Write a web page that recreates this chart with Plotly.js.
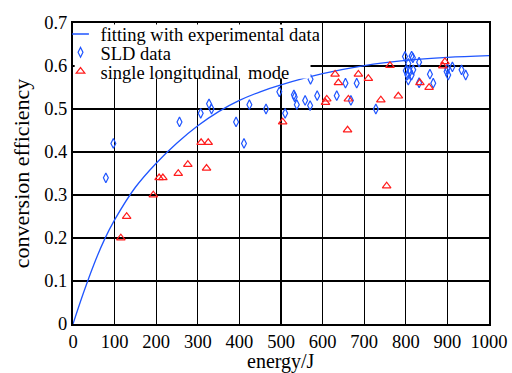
<!DOCTYPE html>
<html>
<head>
<meta charset="utf-8">
<script src="https://cdn.plot.ly/plotly-3.0.1.min.js"></script>
<style>html,body{margin:0;padding:0;background:#fff;}#chart{width:512px;height:373px;}</style>
</head>
<body>
<div id="chart"></div>
<script>
// Fitted curve
var fitEnergy = [0, 25, 50, 75, 100, 150, 200, 250, 300, 350, 400, 450, 500, 600, 700, 800, 900, 1000];
var fitEff    = [0, 0.072, 0.138, 0.195, 0.242, 0.318, 0.374, 0.421, 0.461, 0.494, 0.52, 0.54, 0.556, 0.582, 0.601, 0.613, 0.62, 0.624];

// SLD data (blue diamonds)
var sldEnergy = [79, 97, 256, 307, 327, 333, 392, 411, 424, 464, 496, 510, 531, 533, 538, 558, 570, 571, 587, 634, 655, 668, 682, 728,
                 798, 814, 817, 832, 806, 800, 810, 818, 804, 814, 806, 858, 866, 832, 898, 902, 912, 934, 944, 900];
var sldEff    = [0.34, 0.42, 0.47, 0.49, 0.512, 0.50, 0.47, 0.42, 0.51, 0.50, 0.54, 0.49, 0.533, 0.528, 0.51, 0.52, 0.508, 0.569, 0.531, 0.531, 0.56, 0.52, 0.56, 0.50,
                 0.622, 0.623, 0.619, 0.609, 0.606, 0.589, 0.587, 0.591, 0.579, 0.579, 0.567, 0.581, 0.56, 0.561, 0.587, 0.579, 0.598, 0.591, 0.579, 0.594];

// Single longitudinal mode (red triangles)
var slmEnergy = [115, 129, 193, 207, 216, 253, 276, 308, 325, 321, 504, 607, 610, 630, 638, 660, 662, 686, 710, 740, 754, 762, 782, 834, 856, 889, 894];
var slmEff    = [0.20, 0.25, 0.30, 0.34, 0.34, 0.35, 0.371, 0.422, 0.422, 0.362, 0.47, 0.515, 0.523, 0.581, 0.561, 0.451, 0.523, 0.581, 0.571, 0.521, 0.321, 0.601, 0.530, 0.561, 0.55, 0.60, 0.61];

var legendNames = ['fitting with experimental data', 'SLD data', 'single longitudinal  mode'];
var xTitle = 'energy/J';
var yTitle = 'conversion efficiency';

var blue = '#1f55ff';
var red = '#ff1c1c';
var serif = '"Liberation Serif", "Times New Roman", "DejaVu Serif", serif';

var traces = [
  {x: fitEnergy, y: fitEff, mode: 'lines', line: {color: blue, width: 1.3, shape: 'spline'}, showlegend: false, hoverinfo: 'skip'},
  {x: [null], y: [null], mode: 'markers', name: legendNames[0], legend: 'legend',
   marker: {symbol: 'line-ew-open', size: 12, color: blue, line: {color: blue, width: 1.5}}},
  {x: sldEnergy, y: sldEff, mode: 'markers', name: legendNames[1], legend: 'legend2',
   marker: {symbol: 'diamond-tall-open', size: 7, color: blue, line: {color: blue, width: 1.2}}},
  {x: slmEnergy, y: slmEff, mode: 'markers', name: legendNames[2], legend: 'legend3',
   marker: {symbol: 'triangle-up-open', size: 7.5, color: red, line: {color: red, width: 1.2}}}
];

function leg(yc) {
  return {x: -0.03, y: yc, xanchor: 'left', yanchor: 'middle', bgcolor: 'rgba(0,0,0,0)', borderwidth: 0,
          font: {family: serif, size: 18.5, color: '#000'}, itemwidth: 30};
}

var layout = {
  width: 512, height: 373,
  margin: {l: 73, r: 23, t: 23, b: 49, pad: 0},
  paper_bgcolor: '#fff', plot_bgcolor: '#fff',
  font: {family: serif, color: '#000', size: 18},
  showlegend: true,
  legend: leg(0.962),
  legend2: leg(0.901),
  legend3: leg(0.838),
  xaxis: {range: [0, 1000], dtick: 100, tick0: 0, showgrid: true, gridcolor: '#000', gridwidth: 1.2,
          zeroline: false, showline: true, linecolor: '#000', linewidth: 2, mirror: true, ticks: '',
          tickfont: {family: serif, size: 18.5, color: '#000'}},
  yaxis: {range: [0, 0.7], dtick: 0.1, tick0: 0, showgrid: true, gridcolor: '#000', gridwidth: 1.2,
          zeroline: false, showline: true, linecolor: '#000', linewidth: 2, mirror: true, ticks: '',
          tickfont: {family: serif, size: 18.5, color: '#000'},
          title: {text: yTitle, font: {family: serif, size: 22, color: '#000'}, standoff: 8}},
  annotations: [
    {text: xTitle, xref: 'paper', yref: 'paper', x: 0.5, y: -0.125, xanchor: 'center', yanchor: 'middle',
     showarrow: false, font: {family: serif, size: 20, color: '#000'}}
  ],
  shapes: [
    {type: 'rect', xref: 'paper', yref: 'paper', x0: 0.004, x1: 0.571, y0: 0.816, y1: 0.995,
     fillcolor: '#fff', line: {width: 0}, layer: 'above'}
  ]
};

Plotly.newPlot('chart', traces, layout, {staticPlot: true, displayModeBar: false});
</script>
</body>
</html>
